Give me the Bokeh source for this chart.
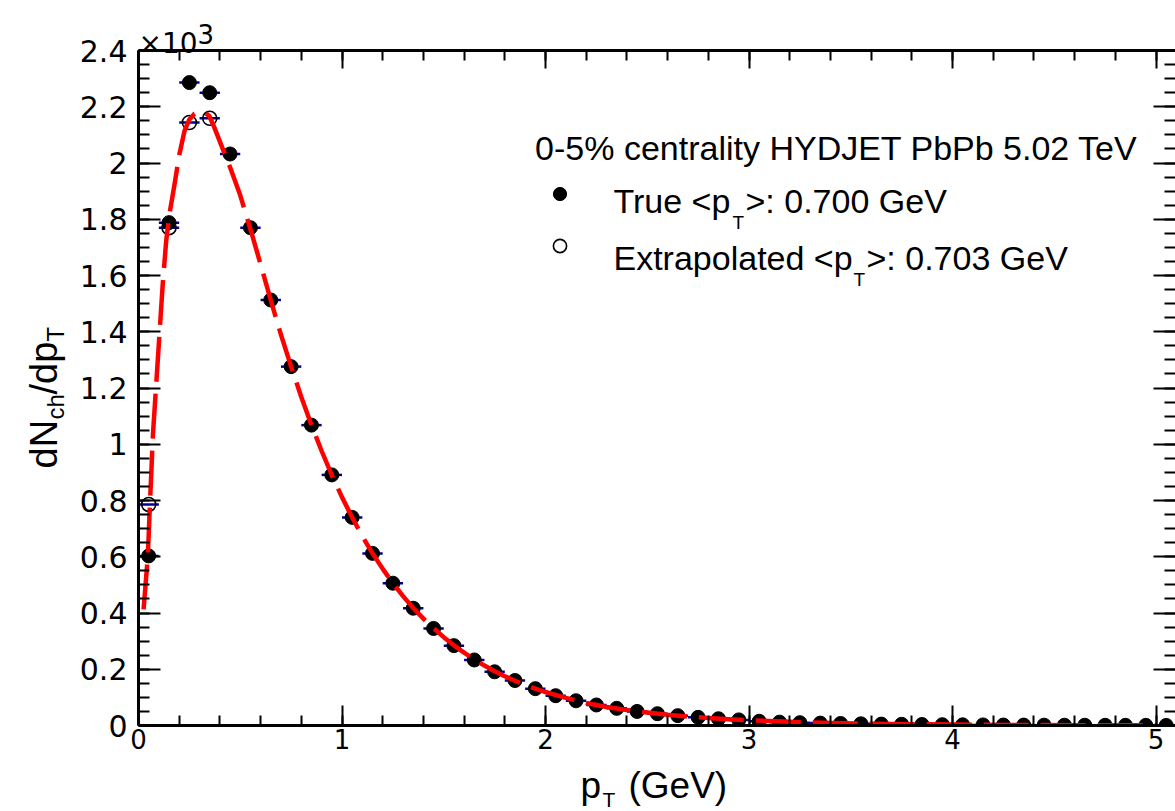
import math
from bokeh.plotting import figure
from bokeh.models import (Range1d, FixedTicker, LinearAxis, Label, Legend,
                          LegendItem, ColumnDataSource, CustomJSTickFormatter)
from bokeh.embed import file_html
from bokeh.resources import INLINE

# ---------------- data ----------------
pt_bins = [0.05, 0.15, 0.25, 0.35, 0.45, 0.55, 0.65, 0.75, 0.85, 0.95,
           1.05, 1.15, 1.25, 1.35, 1.45, 1.55, 1.65, 1.75, 1.85, 1.95,
           2.05, 2.15, 2.25, 2.35, 2.45, 2.55, 2.65, 2.75, 2.85, 2.95,
           3.05, 3.15, 3.25, 3.35, 3.45, 3.55, 3.65, 3.75, 3.85, 3.95,
           4.05, 4.15, 4.25, 4.35, 4.45, 4.55, 4.65, 4.75, 4.85, 4.95, 5.05]
true_yield = [603, 1788, 2286, 2250, 2032, 1770, 1513, 1276, 1068, 891,
              740, 612, 506, 417, 345, 284, 233, 191, 160, 131,
              106, 88, 73, 61, 50, 42, 35, 29, 24, 20,
              15, 12, 10, 8.5, 7.2, 6.0, 5.0, 4.2, 3.5, 2.9,
              2.4, 2.0, 1.7, 1.4, 1.2, 1.0, 0.85, 0.7, 0.6, 0.5, 0.42]

extrap_bins = [0.05, 0.15, 0.25, 0.35]
extrap_yield = [786, 1770, 2144, 2159]

fit_pt = [0.025, 0.046, 0.056, 0.071, 0.087, 0.103, 0.119, 0.136, 0.152, 0.177,
          0.201, 0.226, 0.25, 0.275, 0.3, 0.325, 0.348, 0.373, 0.414, 0.45,
          0.5, 0.55, 0.6, 0.65, 0.7, 0.75, 0.8, 0.85, 0.9, 0.95,
          1.0, 1.05, 1.1, 1.15, 1.2, 1.25, 1.3, 1.35, 1.4, 1.45,
          1.5, 1.55, 1.6, 1.65, 1.7, 1.75, 1.8, 1.85, 1.9, 1.95,
          2.0, 2.1, 2.2, 2.3, 2.4, 2.5, 2.6, 2.7, 2.8, 2.9,
          3.0, 3.2, 3.4, 3.6, 3.8, 4.0, 4.3, 4.6, 5.0]
fit_yield = [413, 603, 784, 1035, 1213, 1391, 1569, 1723, 1818, 1924,
             2031, 2114, 2155, 2175, 2182, 2180, 2167, 2126, 2050, 1985,
             1885, 1765, 1640, 1512, 1390, 1276, 1168, 1068, 976, 890,
             812, 740, 673, 612, 557, 506, 460, 418, 380, 346,
             314, 285, 259, 235, 213, 193, 175, 159, 144, 131,
             119, 98, 80, 66, 55, 46, 38, 32, 27, 22,
             18.5, 13, 9.2, 6.6, 4.7, 3.4, 2.1, 1.3, 0.7]

bin_half_width = 0.05

x_major_ticks = [0, 1, 2, 3, 4, 5]
x_minor_ticks = [round(0.2 * i, 2) for i in range(26)]
y_major_ticks = [0, 200, 400, 600, 800, 1000, 1200, 1400, 1600, 1800, 2000, 2200, 2400]
y_tick_labels = ["0", "0.2", "0.4", "0.6", "0.8", "1", "1.2", "1.4", "1.6",
                 "1.8", "2", "2.2", "2.4"]
y_minor_ticks = [50 * i for i in range(49)]

title_text = "0-5% centrality HYDJET PbPb 5.02 TeV"
legend_true = ("True <p", "T", ">: 0.700 GeV")
legend_extrap = ("Extrapolated <p", "T", ">: 0.703 GeV")

# ---------------- layout constants ----------------
W, H = 1175, 811
FRAME_L, FRAME_R, FRAME_T, FRAME_B = 138, 1175, 50, 725
X_END = (FRAME_R - FRAME_L) / 203.5
Y_END = 2400

FONT = "Liberation Sans"
TICK_FONT = "DejaVu Sans"

p = figure(frame_width=FRAME_R - FRAME_L, frame_height=FRAME_B - FRAME_T,
           x_range=Range1d(0, X_END), y_range=Range1d(0, Y_END),
           output_backend="svg", toolbar_location=None,
           min_border_left=FRAME_L, min_border_right=0,
           min_border_top=FRAME_T, min_border_bottom=0)
p.xgrid.visible = False
p.ygrid.visible = False
p.outline_line_color = None
p.background_fill_color = "white"
p.border_fill_color = "white"

x_ticker = FixedTicker(ticks=x_major_ticks, minor_ticks=x_minor_ticks)
y_ticker = FixedTicker(ticks=y_major_ticks, minor_ticks=y_minor_ticks)


def style_axis(ax, major, minor, line=True):
    ax.major_tick_in = major
    ax.major_tick_out = 0
    ax.minor_tick_in = minor
    ax.minor_tick_out = 0
    ax.axis_line_width = 3
    ax.axis_line_color = "black" if line else None
    ax.major_tick_line_width = 2
    ax.minor_tick_line_width = 2
    ax.major_tick_line_color = "black"
    ax.minor_tick_line_color = "black"


xa = p.xaxis[0]
xa.ticker = x_ticker
style_axis(xa, 20, 10)
xa.major_label_text_font = TICK_FONT
xa.major_label_text_font_size = "26px"
xa.major_label_text_color = "black"
xa.major_label_standoff = 3

ya = p.yaxis[0]
ya.ticker = y_ticker
style_axis(ya, 22, 11)
ya.major_label_overrides = {t: s for t, s in zip(y_major_ticks, y_tick_labels)}
ya.major_label_text_font = TICK_FONT
ya.major_label_text_font_size = "30px"
ya.major_label_text_color = "black"
ya.major_label_standoff = 11

blank = CustomJSTickFormatter(code="return ''")
top_axis = LinearAxis(ticker=x_ticker, formatter=blank,
                      major_label_text_font_size="10px", major_label_standoff=0)
style_axis(top_axis, 18, 10)
p.add_layout(top_axis, "above")

right_axis = LinearAxis(ticker=y_ticker, formatter=blank,
                        major_label_text_font_size="10px", major_label_standoff=0)
style_axis(right_axis, 22, 11, line=False)
p.add_layout(right_axis, "right")

# ---------------- glyphs ----------------
err_true = ColumnDataSource(dict(
    x0=[x - bin_half_width for x in pt_bins], x1=[x + bin_half_width for x in pt_bins],
    y=true_yield))
err_ext = ColumnDataSource(dict(
    x0=[x - bin_half_width for x in extrap_bins], x1=[x + bin_half_width for x in extrap_bins],
    y=extrap_yield))
p.segment(x0="x0", y0="y", x1="x1", y1="y", source=err_true, line_color="#000099", line_width=2.5)
p.segment(x0="x0", y0="y", x1="x1", y1="y", source=err_ext, line_color="#000099", line_width=2.5)

r_ext = p.scatter(extrap_bins, extrap_yield, marker="circle", size=14,
                  fill_color=None, line_color="black", line_width=1.6)
r_true = p.scatter(pt_bins, true_yield, marker="circle", size=14,
                   fill_color="black", line_color="black")

p.line(fit_pt, fit_yield, line_color="#ff0000", line_width=4.5, line_dash="45 12",
       line_join="round")

# ---------------- legend (markers) ----------------
leg = Legend(items=[LegendItem(label=" ", renderers=[r_true]),
                    LegendItem(label=" ", renderers=[r_ext])],
             location=(542.5 - FRAME_L, FRAME_B - 261.5),
             glyph_width=33, glyph_height=33, spacing=19, padding=0, margin=0,
             border_line_color=None, background_fill_alpha=0,
             label_text_font_size="10px", label_standoff=0, label_width=1,
             label_height=10)
p.add_layout(leg)


# ---------------- texts (canvas pixel positions) ----------------
def add_text(text, px, py, size, font=FONT, align="left", angle=0.0, place="center"):
    lab = Label(x=px, y=py, x_units="canvas", y_units="canvas",
                text=text, text_font=font,
                text_font_size=f"{size}px", text_align=align,
                text_baseline="alphabetic", angle=angle,
                text_color="black")
    if place == "center":
        p.add_layout(lab)
    else:
        p.add_layout(lab, place)


# legend header and entries (inside the frame)
add_text(title_text, 836, 147, 34, align="center")
add_text(legend_true[0], 613, 200, 34)
add_text(legend_true[1], 732, 222, 19)
add_text(legend_true[2], 745, 200, 34)
add_text(legend_extrap[0], 613, 257, 34)
add_text(legend_extrap[1], 853, 279, 19)
add_text(legend_extrap[2], 866, 257, 34)

# texts outside the frame live in the bottom panel (absolute canvas positions)
OUT = "below"
add_text("\u00d710", 138, 43, 28, font=TICK_FONT, place=OUT)
add_text("3", 197, 33, 26, font=TICK_FONT, place=OUT)

add_text("p", 580, 785, 37, place=OUT)
add_text("T", 602, 799, 21, place=OUT)
add_text("(GeV)", 628, 785, 37, place=OUT)

ang = math.pi / 2
add_text("dN", 43, 468, 38, angle=ang, place=OUT)
add_text("ch", 55, 419, 24, angle=ang, place=OUT)
add_text("/dp", 43, 394, 38, angle=ang, place=OUT)
add_text("T", 55, 341, 24, angle=ang, place=OUT)

html = file_html(p, INLINE)
html = html.replace("<head>", "<head><style>html,body{margin:0;padding:0;overflow:hidden;}</style>", 1)
open("out.html", "w").write(html)
